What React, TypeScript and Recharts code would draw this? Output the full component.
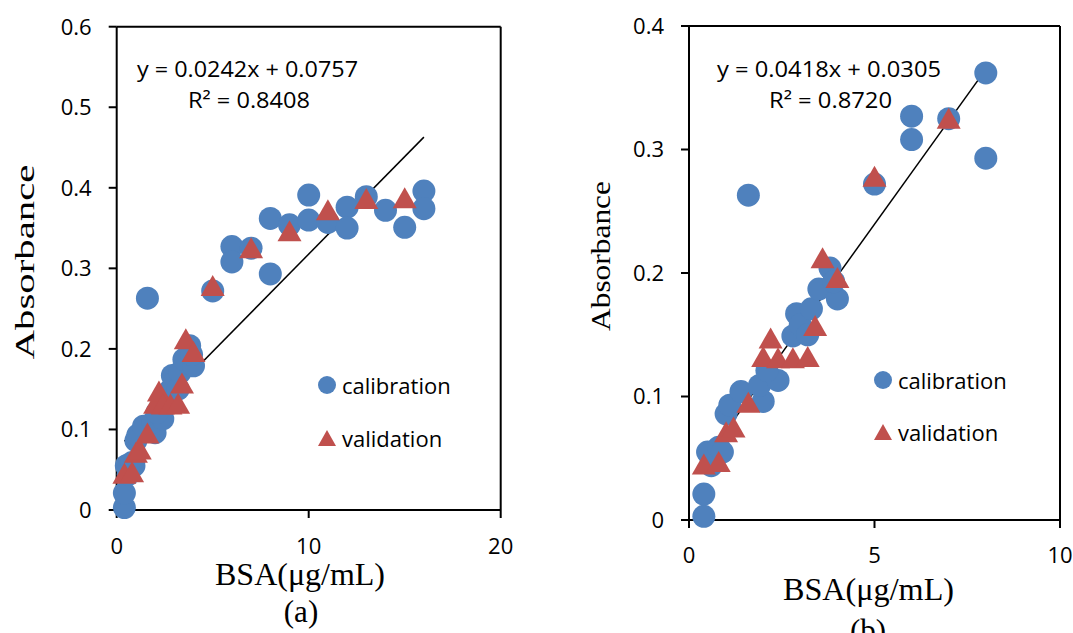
import React from "react";
import { ScatterChart, Scatter, XAxis, YAxis, ReferenceLine, Legend } from "recharts";

// BSA concentration (µg/mL) vs absorbance
const calibX = [0.4, 0.4, 0.6, 0.5, 0.8, 0.9, 1.0, 1.1, 1.4, 2.0, 1.9, 2.4, 2.1, 2.8, 2.9, 3.0, 3.2, 3.3, 3.5, 3.8, 4.0, 3.9, 1.6, 5, 6, 6, 7, 8, 8, 9, 10, 10, 11, 12, 12, 13, 14, 15, 16, 16];
const calibY = [0.003, 0.021, 0.044, 0.055, 0.059, 0.055, 0.086, 0.093, 0.104, 0.096, 0.109, 0.113, 0.121, 0.149, 0.167, 0.158, 0.150, 0.171, 0.187, 0.204, 0.179, 0.193, 0.263, 0.272, 0.327, 0.308, 0.325, 0.362, 0.293, 0.354, 0.391, 0.360, 0.357, 0.376, 0.350, 0.389, 0.372, 0.351, 0.396, 0.374];

const validX = [0.4, 0.8, 1.0, 1.2, 1.6, 2.0, 2.2, 2.4, 2.8, 3.2, 3.4, 3.6, 4.0, 5, 7, 9, 11, 13, 15];
const validY = [0.045, 0.047, 0.071, 0.075, 0.095, 0.132, 0.147, 0.131, 0.131, 0.132, 0.157, 0.212, 0.196, 0.278, 0.325, 0.346, 0.372, 0.386, 0.387];

const xTicksA = [0, 10, 20];
const yTicksA = [0, 0.1, 0.2, 0.3, 0.4, 0.5, 0.6];
const xTicksB = [0, 5, 10];
const yTicksB = [0, 0.1, 0.2, 0.3, 0.4];

// linear fits shown on each panel
const fitA = { slope: 0.0242, intercept: 0.0757, r2: "0.8408", from: 0.4, to: 16 };
const fitB = { slope: 0.0418, intercept: 0.0305, r2: "0.8720", from: 0.4, to: 8 };

const BLUE = "#4F81BD";
const RED = "#C0504D";
const SANS = "'Open Sans', sans-serif";
const SERIF = "'Liberation Serif', 'Times New Roman', serif";

const Dot = (props: any) => <circle cx={props.cx} cy={props.cy} r={11.5} fill={BLUE} />;

const Tri = (props: any) => {
  const { cx, cy } = props;
  return <polygon points={`${cx},${cy - 11} ${cx - 12},${cy + 10} ${cx + 12},${cy + 10}`} fill={RED} />;
};

const legendContent = (rowH: number) => (props: any) => (
  <div style={{ fontFamily: SANS, fontSize: 22, color: "#000" }}>
    {(props.payload || []).map((p: any) => (
      <div key={p.value} style={{ display: "flex", alignItems: "center", height: rowH }}>
        <svg width={22} height={22}>
          {p.type === "triangle" ? (
            <polygon points="11,3 2,19 20,19" fill={RED} />
          ) : (
            <circle cx={11} cy={11} r={9} fill={BLUE} />
          )}
        </svg>
        <span style={{ marginLeft: 4 }}>{p.value}</span>
      </div>
    ))}
  </div>
);

type PanelProps = {
  left: number;
  width: number;
  margin: { top: number; right: number; bottom: number; left: number };
  xTicks: number[];
  yTicks: number[];
  maxX: number;
  fit: { slope: number; intercept: number; from: number; to: number };
  legendPos: { left: number; top: number; rowH: number };
  xLabelGap: number;
};

function Panel({ left, width, margin, xTicks, yTicks, maxX, fit, legendPos, xLabelGap }: PanelProps) {
  const calib = calibX.map((x, i) => ({ x, y: calibY[i] })).filter((d) => d.x <= maxX);
  const valid = validX.map((x, i) => ({ x, y: validY[i] })).filter((d) => d.x <= maxX);
  const xMax = xTicks[xTicks.length - 1];
  const yMax = yTicks[yTicks.length - 1];
  const axisStyle = { stroke: "#000", strokeWidth: 2 };
  const tick = { fontFamily: SANS, fontSize: 22, fill: "#000" };
  return (
    <div style={{ position: "absolute", left, top: 0 }}>
      <ScatterChart width={width} height={633} margin={margin}>
        <XAxis
          type="number"
          dataKey="x"
          domain={[0, xMax]}
          ticks={xTicks}
          height={30}
          tick={tick}
          tickSize={8}
          tickMargin={xLabelGap}
          axisLine={axisStyle}
          tickLine={axisStyle}
        />
        <YAxis
          type="number"
          dataKey="y"
          domain={[0, yMax]}
          ticks={yTicks}
          width={60}
          tick={tick}
          tickSize={8}
          tickMargin={17}
          axisLine={axisStyle}
          tickLine={axisStyle}
        />
        <ReferenceLine y={yMax} stroke="#000" strokeWidth={2} />
        <ReferenceLine x={xMax} stroke="#000" strokeWidth={2} />
        <Legend
          layout="horizontal"
          verticalAlign="middle"
          wrapperStyle={{ left: legendPos.left, top: legendPos.top, width: 200 }}
          content={legendContent(legendPos.rowH)}
        />
        <Scatter name="calibration" data={calib} shape={Dot} legendType="circle" isAnimationActive={false} />
        <Scatter name="validation" data={valid} shape={Tri} legendType="triangle" isAnimationActive={false} />
        <ReferenceLine
          segment={[
            { x: fit.from, y: fit.slope * fit.from + fit.intercept },
            { x: fit.to, y: fit.slope * fit.to + fit.intercept },
          ]}
          stroke="#000"
          strokeWidth={1.5}
          ifOverflow="visible"
        />
      </ScatterChart>
    </div>
  );
}

export default function App() {
  return (
    <div
      style={{
        position: "absolute",
        left: 0,
        top: 0,
        width: 1073,
        height: 633,
        overflow: "hidden",
        background: "#fff",
      }}
    >
      <Panel
        left={0}
        width={540}
        margin={{ top: 26.7, right: 39.3, bottom: 93, left: 56.7 }}
        xTicks={xTicksA}
        yTicks={yTicksA}
        maxX={20}
        fit={fitA}
        legendPos={{ left: 316, top: 358, rowH: 53 }}
        xLabelGap={20}
      />
      <Panel
        left={560}
        width={513}
        margin={{ top: 26, right: 13, bottom: 83, left: 69 }}
        xTicks={xTicksB}
        yTicks={yTicksB}
        maxX={8}
        fit={fitB}
        legendPos={{ left: 312, top: 354, rowH: 52 }}
        xLabelGap={19}
      />
      <svg
        width={1073}
        height={633}
        style={{ position: "absolute", left: 0, top: 0, pointerEvents: "none" }}
      >
        <g fontFamily={SANS} fontSize={22} fill="#000">
          <text x={137} y={77} textLength={221} lengthAdjust="spacingAndGlyphs">
            {`y = ${fitA.slope}x + ${fitA.intercept}`}
          </text>
          <text x={188} y={108} textLength={122} lengthAdjust="spacingAndGlyphs">
            {`R² = ${fitA.r2}`}
          </text>
          <text x={717} y={77} textLength={224} lengthAdjust="spacingAndGlyphs">
            {`y = ${fitB.slope}x + ${fitB.intercept}`}
          </text>
          <text x={769} y={108} textLength={123} lengthAdjust="spacingAndGlyphs">
            {`R² = ${fitB.r2}`}
          </text>
        </g>
        <g fontFamily={SERIF} fill="#000">
          <text x={215} y={585} fontSize={31} textLength={170} lengthAdjust="spacingAndGlyphs">
            BSA(μg/mL)
          </text>
          <text x={301} y={622} fontSize={31} textAnchor="middle">
            (a)
          </text>
          <text
            transform="translate(34,262) rotate(-90)"
            fontSize={28}
            textAnchor="middle"
            textLength={195}
            lengthAdjust="spacingAndGlyphs"
          >
            Absorbance
          </text>
          <text x={783} y={600} fontSize={31} textLength={171} lengthAdjust="spacingAndGlyphs">
            BSA(μg/mL)
          </text>
          <text x={868} y={641} fontSize={31} textAnchor="middle">
            (b)
          </text>
          <text
            transform="translate(610,256) rotate(-90)"
            fontSize={28}
            textAnchor="middle"
            textLength={150}
            lengthAdjust="spacingAndGlyphs"
          >
            Absorbance
          </text>
        </g>
      </svg>
    </div>
  );
}
